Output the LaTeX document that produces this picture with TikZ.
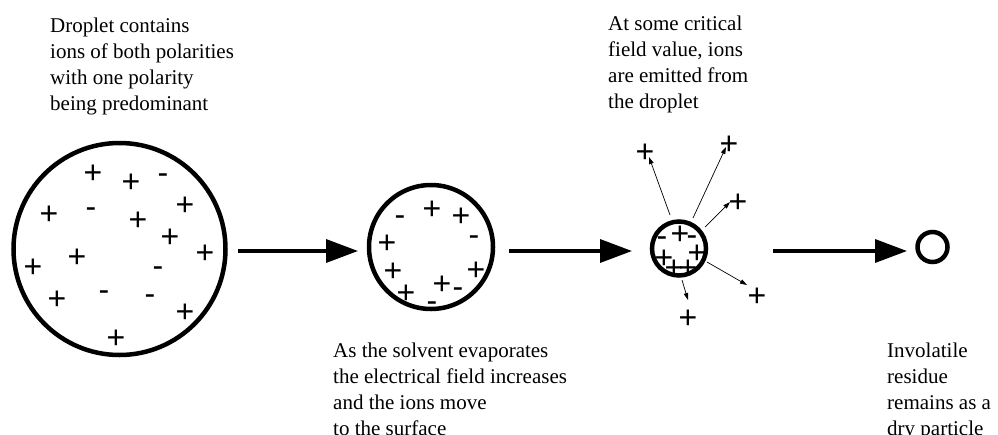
\documentclass[tikz,border=0pt]{standalone}
\usepackage{fontspec}
\setmainfont{Liberation Serif}
\newfontfamily\signfont{Liberation Sans}
\usetikzlibrary{arrows.meta}
\tikzset{
  lbl/.style={anchor=north west, inner sep=0pt, align=left, font=\fontsize{21}{26}\selectfont},
  pl/.style={anchor=base, inner sep=0pt, yshift=-11.3pt, font=\signfont\fontsize{32}{32}\selectfont},
  mi/.style={anchor=base, inner sep=0pt, yshift=-8.5pt, font=\signfont\fontsize{32}{32}\selectfont},
  drop/.style={draw, line width=4.5pt},
  bigarrow/.style={line width=3.5pt, -{Triangle[length=32pt,width=23pt]}},
  thinarrow/.style={line width=0.7pt, -{Triangle[length=7pt,width=4.5pt]}},
}
\begin{document}
\begin{tikzpicture}[x=1pt,y=-1pt]
\useasboundingbox (0,0) rectangle (998,434);
% texts
\node[lbl] (t1) at (50,17.7) {Droplet contains\\ions of both polarities\\with one polarity\\being predominant};
\node[lbl] (t2) at (608,15.7) {At some critical\\field value, ions\\are emitted from\\the droplet};
\node[lbl] (t3) at (333,342.7) {As the solvent evaporates\\the electrical field increases\\and the ions move\\to the surface};
\node[lbl] (t4) at (887,342.7) {Involatile\\residue\\remains as a\\dry particle};
% droplets
\draw[drop] (119.5,249) circle[radius=106];
\coordinate (big) at (119.5,249);
\draw[drop] (431,247) circle[radius=62];
\coordinate (med) at (431,247);
\draw[drop] (679,248.5) circle[radius=27];
\coordinate (small) at (679,248.5);
\draw[drop] (932.5,247) circle[radius=15];
\coordinate (tiny) at (932.5,247);
% ions in big droplet
\node[pl] (b1) at (93,172) {+};
\node[pl] (b2) at (131,181) {+};
\node[mi] (b3) at (163,175) {-};
\node[pl] (b4) at (49,213) {+};
\node[mi] (b5) at (91,209) {-};
\node[pl] (b6) at (138,219) {+};
\node[pl] (b7) at (185,204) {+};
\node[pl] (b8) at (170,236) {+};
\node[pl] (b9) at (77,256) {+};
\node[pl] (b10) at (33,266) {+};
\node[pl] (b11) at (205,252) {+};
\node[mi] (b12) at (158,268) {-};
\node[pl] (b13) at (57,298) {+};
\node[mi] (b14) at (104,292) {-};
\node[mi] (b15) at (150,296) {-};
\node[pl] (b16) at (185,311) {+};
\node[pl] (b17) at (116,337) {+};
% ions in medium droplet
\node[mi] (m1) at (400,217) {-};
\node[pl] (m2) at (432,208) {+};
\node[pl] (m3) at (461,215) {+};
\node[pl] (m4) at (387,242) {+};
\node[mi] (m5) at (474,237) {-};
\node[pl] (m6) at (393,270) {+};
\node[pl] (m7) at (476,269) {+};
\node[pl] (m8) at (442,283) {+};
\node[mi] (m9) at (458,289) {-};
\node[pl] (m10) at (406,292) {+};
\node[mi] (m11) at (432,303) {-};
% ions in small droplet
\node[mi] (s1) at (662,238) {-};
\node[pl] (s2) at (680,233) {+};
\node[mi] (s3) at (692,237) {-};
\node[pl] (s4) at (697,252) {+};
\node[pl] (s5) at (664,257) {+};
\node[pl] (s6) at (674,267) {+};
\node[pl] (s7) at (688,267) {+};
% emitted ions
\node[pl] (e1) at (645,151) {+};
\node[pl] (e2) at (729,143) {+};
\node[pl] (e3) at (738,201) {+};
\node[pl] (e4) at (757,295) {+};
\node[pl] (e5) at (688,317) {+};
\coordinate (e1s) at (670,215); \coordinate (e1t) at (649,157);
\coordinate (e2s) at (693,218); \coordinate (e2t) at (726,147);
\coordinate (e3s) at (705,227); \coordinate (e3t) at (730,202);
\coordinate (e4s) at (707,262); \coordinate (e4t) at (747,285);
\coordinate (e5s) at (682,280); \coordinate (e5t) at (688,300);
\draw[thinarrow] (e1s) -- (e1t);
\draw[thinarrow] (e2s) -- (e2t);
\draw[thinarrow] (e3s) -- (e3t);
\draw[thinarrow] (e4s) -- (e4t);
\draw[thinarrow] (e5s) -- (e5t);
% big arrows
\coordinate (a1s) at (238,251); \coordinate (a1t) at (358,251);
\coordinate (a2s) at (509,251); \coordinate (a2t) at (632,251);
\coordinate (a3s) at (773,251); \coordinate (a3t) at (907,251);
\draw[bigarrow] (a1s) -- (a1t);
\draw[bigarrow] (a2s) -- (a2t);
\draw[bigarrow] (a3s) -- (a3t);
\end{tikzpicture}
\end{document}
